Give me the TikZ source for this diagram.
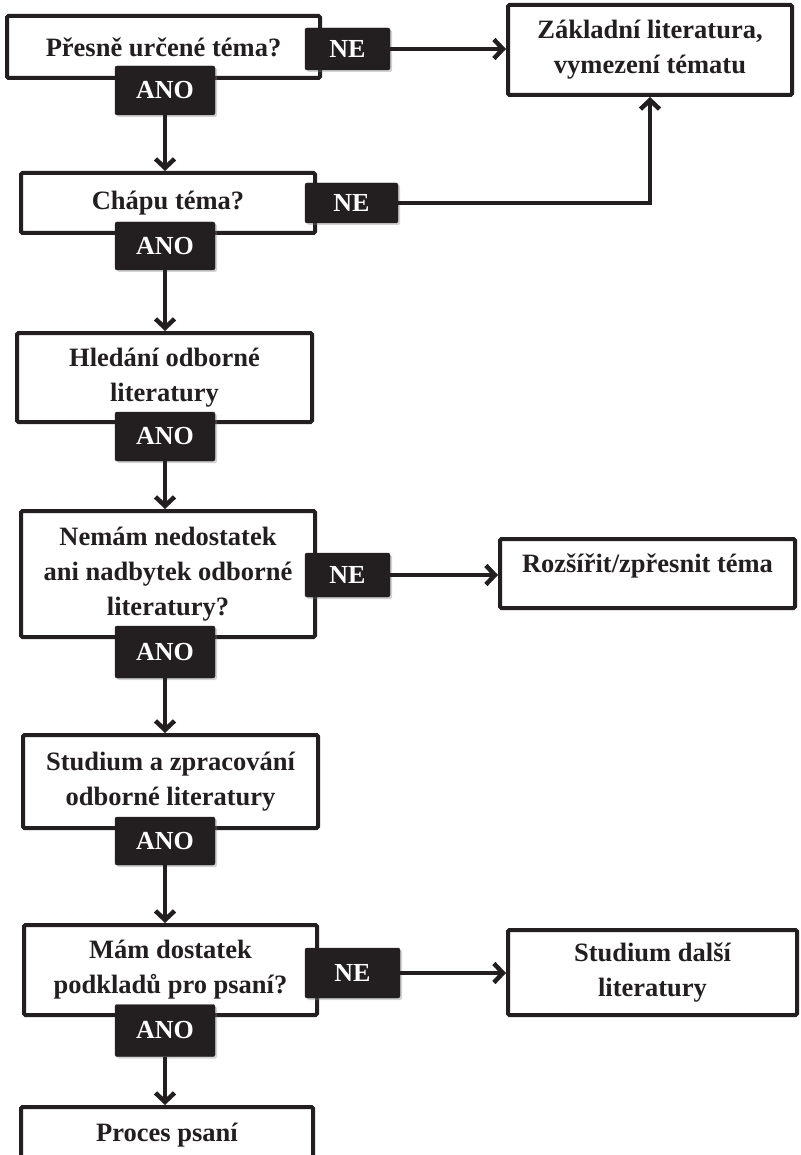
\documentclass[tikz,border=0pt]{standalone}
\usepackage{fontspec}
\setmainfont{Liberation Serif}
\usetikzlibrary{arrows.meta,shadows}
\definecolor{ink}{HTML}{231F20}
\tikzset{
  stepbox/.style={draw=ink, line width=4pt, rounded corners=1.5pt, fill=white,
    align=center, text=ink, font=\bfseries\fontsize{26.5}{35}\selectfont,
    inner sep=0pt},
  answer/.style={fill=ink, draw=ink, rounded corners=2pt, text=white,
    font=\bfseries\fontsize{26}{28}\selectfont, inner sep=0pt,
    drop shadow={shadow xshift=2pt, shadow yshift=-2pt, opacity=0.35}},
  flow/.style={draw=ink, line width=4.5pt, -{Straight Barb[length=9pt,width=19pt]}}
}
\begin{document}
\begin{tikzpicture}[x=1pt, y=-1pt]
  \useasboundingbox (0,0) rectangle (800,1155);
  \clip (0,0) rectangle (800,1155);
  % questions and steps
  \node[stepbox, minimum width=313, minimum height=62] (q1) at (163.5, 47) {Přesně určené téma?};
  \node[stepbox, minimum width=284, minimum height=90] (basic) at (650, 50) {Základní literatura,\\vymezení tématu};
  \node[stepbox, minimum width=294, minimum height=60] (q2) at (168, 203) {Chápu téma?};
  \node[stepbox, minimum width=295, minimum height=89] (search) at (164.5, 377.5) {Hledání odborné\\literatury};
  \node[stepbox, minimum width=294, minimum height=126] (q3) at (168, 574) {Nemám nedostatek\\ani nadbytek odborné\\literatury?};
  \node[stepbox, minimum width=295, minimum height=69] (widen) at (647.5, 573.5) {Rozšířit/zpřesnit téma\\[-15pt]\mbox{}};
  \node[stepbox, minimum width=295, minimum height=93] (study) at (170.5, 781.5) {Studium a zpracování\\odborné literatury};
  \node[stepbox, minimum width=293, minimum height=90] (q4) at (170.5, 970) {Mám dostatek\\podkladů pro psaní?};
  \node[stepbox, minimum width=289, minimum height=85] (more) at (652.5, 972.5) {Studium další\\literatury};
  \node[stepbox, minimum width=292, minimum height=56] (write) at (167, 1135) {Proces psaní};
  % answers
  \node[answer, minimum width=100, minimum height=49] (ano1) at (165, 90.5) {ANO};
  \node[answer, minimum width=85, minimum height=42] (ne1) at (347.5, 49) {NE};
  \node[answer, minimum width=100, minimum height=48] (ano2) at (165, 246) {ANO};
  \node[answer, minimum width=93, minimum height=40] (ne2) at (351.5, 203) {NE};
  \node[answer, minimum width=100, minimum height=49] (ano3) at (165, 436.5) {ANO};
  \node[answer, minimum width=100, minimum height=52] (ano4) at (165, 652) {ANO};
  \node[answer, minimum width=85, minimum height=44] (ne3) at (347.5, 575) {NE};
  \node[answer, minimum width=100, minimum height=48] (ano5) at (165, 841) {ANO};
  \node[answer, minimum width=100, minimum height=52] (ano6) at (165, 1030.5) {ANO};
  \node[answer, minimum width=95, minimum height=50] (ne4) at (352.5, 973) {NE};
  % connectors
  \draw[flow] (ano1) -- (ano1 |- q2.north);
  \draw[flow] (ano2) -- (ano2 |- search.north);
  \draw[flow] (ano3) -- (ano3 |- q3.north);
  \draw[flow] (ano4) -- (ano4 |- study.north);
  \draw[flow] (ano5) -- (ano5 |- q4.north);
  \draw[flow] (ano6) -- (ano6 |- write.north);
  \draw[flow] (ne1) -- (ne1 -| basic.west);
  \draw[flow] (ne2) -| (basic.south);
  \draw[flow] (ne3) -- (ne3 -| widen.west);
  \draw[flow] (ne4) -- (ne4 -| more.west);
\end{tikzpicture}
\end{document}
